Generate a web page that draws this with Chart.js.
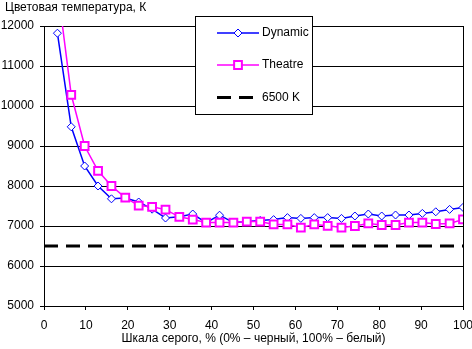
<!DOCTYPE html>
<html><head><meta charset="utf-8">
<script src="https://cdn.jsdelivr.net/npm/chart.js@4"></script>
<style>html,body{margin:0;padding:0;background:#fff}canvas{display:block}</style>
</head><body>
<canvas id="c" width="472" height="349"></canvas>
<script>
const grayLevels = [3.2,6.5,9.7,12.9,16.1,19.4,22.6,25.8,29.0,32.3,35.5,38.7,41.9,45.2,48.4,51.6,54.8,58.1,61.3,64.5,67.7,71.0,74.2,77.4,80.6,83.9,87.1,90.3,93.5,96.8,100];
const dynamicTemps = [11820,9480,8500,8000,7680,7700,7600,7420,7200,7230,7300,7085,7270,7085,7110,7140,7160,7210,7190,7210,7210,7190,7250,7300,7250,7275,7275,7315,7355,7415,7465];
const theatreTemps = [13000,10280,9000,8380,8000,7710,7510,7480,7410,7230,7160,7085,7085,7085,7110,7110,7040,7040,6960,7040,7005,6960,7000,7065,7025,7025,7085,7085,7050,7065,7165];
const refTemp = 6500;
const refX = [0, 100];
const seriesNames = ['Dynamic', 'Theatre', '6500 K'];
const yTitle = 'Цветовая температура, К';
const xTitle = 'Шкала серого, % (0% – черный, 100% – белый)';

const FONT = '"Liberation Sans", Arial, sans-serif';

const legendPlugin = {
  id: 'boxLegend',
  afterDatasetsDraw(chart) {
    const ctx = chart.ctx;
    ctx.save();
    const bx = 195.5, by = 16.5, bw = 117, bh = 98;
    ctx.fillStyle = '#fff';
    ctx.fillRect(bx, by, bw, bh);
    ctx.strokeStyle = '#000';
    ctx.lineWidth = 1;
    ctx.strokeRect(bx, by, bw, bh);
    const rows = [33, 65, 97.5];
    const dsByLabel = {};
    chart.data.datasets.forEach(d => dsByLabel[d.label] = d);
    seriesNames.forEach((name, i) => {
      const ds = dsByLabel[name];
      const y = rows[i];
      ctx.save();
      ctx.strokeStyle = ds.borderColor;
      ctx.lineWidth = ds.borderWidth;
      ctx.setLineDash(ds.borderDash || []);
      ctx.beginPath();
      ctx.moveTo(217, y);
      ctx.lineTo(259, y);
      ctx.stroke();
      ctx.restore();
      const mx = 238;
      if (ds.pointStyle === 'rectRot') {
        const r = ds.pointRadius;
        ctx.beginPath();
        ctx.moveTo(mx - r, y); ctx.lineTo(mx, y - r); ctx.lineTo(mx + r, y); ctx.lineTo(mx, y + r); ctx.closePath();
        ctx.fillStyle = '#fff'; ctx.fill();
        ctx.strokeStyle = ds.pointBorderColor; ctx.lineWidth = ds.pointBorderWidth; ctx.stroke();
      } else if (ds.pointStyle === 'rect') {
        const s = Math.SQRT1_2 * ds.pointRadius;
        ctx.beginPath();
        ctx.rect(mx - s, y - s, 2 * s, 2 * s);
        ctx.fillStyle = '#fff'; ctx.fill();
        ctx.strokeStyle = ds.pointBorderColor; ctx.lineWidth = ds.pointBorderWidth; ctx.stroke();
      }
      ctx.fillStyle = '#000';
      ctx.font = '12px ' + FONT;
      ctx.textBaseline = 'middle';
      ctx.textAlign = 'left';
      ctx.fillText(name, 262, y);
    });
    ctx.restore();
  },
  afterDraw(chart) {
    const ctx = chart.ctx;
    ctx.save();
    ctx.fillStyle = '#000';
    ctx.font = '12px ' + FONT;
    ctx.textBaseline = 'middle';
    ctx.textAlign = 'left';
    ctx.fillText(yTitle, 5, 8);
    ctx.restore();
  }
};

function fixPad(scale) {
  scale.paddingLeft = 0; scale.paddingRight = 0; scale.paddingTop = 0; scale.paddingBottom = 0;
}

new Chart(document.getElementById('c'), {
  type: 'line',
  data: {
    datasets: [
      {
        label: seriesNames[1],
        data: grayLevels.map((x, i) => ({x, y: theatreTemps[i]})),
        borderColor: '#ff00ff',
        borderWidth: 1.5,
        pointStyle: 'rect',
        pointRadius: 5.5,
        pointBorderWidth: 2,
        pointBorderColor: '#ff00ff',
        pointBackgroundColor: '#ffffff',
        tension: 0,
        order: 0
      },
      {
        label: seriesNames[0],
        data: grayLevels.map((x, i) => ({x, y: dynamicTemps[i]})),
        borderColor: '#0000ff',
        borderWidth: 1.5,
        pointStyle: 'rectRot',
        pointRadius: 4,
        pointBorderWidth: 1,
        pointBorderColor: '#0000ff',
        pointBackgroundColor: '#ffffff',
        tension: 0,
        order: 1
      },
      {
        label: seriesNames[2],
        data: refX.map(x => ({x, y: refTemp})),
        borderColor: '#000000',
        borderWidth: 3,
        borderDash: [14, 8],
        pointRadius: 0,
        tension: 0,
        order: 2
      }
    ]
  },
  options: {
    responsive: false,
    animation: false,
    devicePixelRatio: 1,
    layout: { padding: { left: 0, right: 9, top: 26, bottom: 0 } },
    plugins: { legend: { display: false }, tooltip: { enabled: false }, title: { display: false } },
    scales: {
      x: {
        type: 'linear', min: 0, max: 100,
        ticks: { stepSize: 10, color: '#000', font: { family: FONT, size: 12 }, padding: 8, maxRotation: 0,
                 callback: v => String(v) },
        grid: {
          color: c => (c.tick && c.tick.value === 100) ? '#000' : 'rgba(0,0,0,0)',
          tickColor: '#000', tickLength: 4, lineWidth: 1
        },
        border: { color: '#000', width: 1 },
        title: { display: true, text: xTitle, color: '#000', font: { family: FONT, size: 12 }, padding: { top: 0, bottom: 3 } },
        afterFit: s => { s.height = 43; fixPad(s); }
      },
      y: {
        min: 5000, max: 12000,
        ticks: { stepSize: 1000, color: '#000', font: { family: FONT, size: 12 }, padding: 6,
                 callback: v => String(v) },
        grid: { color: '#000', tickColor: '#000', tickLength: 4, lineWidth: 1 },
        border: { color: '#000', width: 1 },
        afterFit: s => { s.width = 44; fixPad(s); }
      }
    }
  },
  plugins: [legendPlugin]
});
</script>
</body></html>
